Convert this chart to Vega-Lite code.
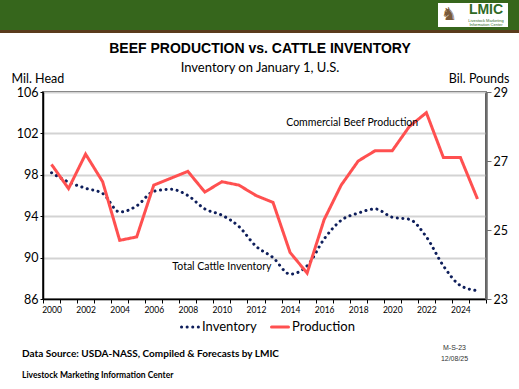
{
  "$schema": "https://vega.github.io/schema/vega-lite/v6.json",
  "padding": 0,
  "spacing": 0,
  "align": "none",
  "background": "white",
  "config": {
    "font": "Lato",
    "view": {"stroke": null},
    "concat": {"spacing": 0}
  },
  "resolve": {"scale": {"color": "independent", "strokeDash": "independent"}, "legend": {"color": "independent", "strokeDash": "independent"}},
  "vconcat": [
    {
      "hconcat": [
        {"width": 438, "height": 30, "view": {"fill": "#36661c", "stroke": null}, "data": {"values": []}, "mark": "text"},
        {
          "align": "none",
          "vconcat": [
            {"width": 70, "height": 3, "view": {"fill": "#36661c", "stroke": null}, "data": {"values": []}, "mark": "text"},
            {
              "width": 70, "height": 24,
              "view": {"fill": "white", "stroke": null},
              "data": {"values": [{"t": "LMIC"}]},
              "layer": [
                {"mark": {"type": "text", "font": "Liberation Sans", "fontWeight": "bold", "fontSize": 14, "color": "#2f6a25", "dx": 13, "dy": -5}, "encoding": {"text": {"field": "t"}}},
                {"mark": {"type": "text", "font": "Liberation Sans", "fontSize": 4, "color": "#2f6a25", "dx": 13, "dy": 5.5}, "encoding": {"text": {"value": "Livestock Marketing"}}},
                {"mark": {"type": "text", "font": "Liberation Sans", "fontSize": 4, "color": "#2f6a25", "dx": 13, "dy": 9.5}, "encoding": {"text": {"value": "Information Center"}}},
                {"mark": {"type": "text", "font": "DejaVu Sans", "fontSize": 18, "color": "#7a5a3a", "dx": -24, "dy": 0}, "encoding": {"text": {"value": "♞"}}}
              ]
            },
            {"width": 70, "height": 3, "view": {"fill": "#36661c", "stroke": null}, "data": {"values": []}, "mark": "text"}
          ]
        },
        {"width": 11, "height": 30, "view": {"fill": "#36661c", "stroke": null}, "data": {"values": []}, "mark": "text"}
      ]
    },
    {"width": 519, "height": 3, "view": {"fill": "#5a3b1c", "stroke": null}, "data": {"values": []}, "mark": "text"},
    {"width": 519, "height": 7, "data": {"values": []}, "mark": "text"},
    {
      "resolve": {"scale": {"color": "independent", "strokeDash": "independent"}, "legend": {"color": "independent", "strokeDash": "independent"}},
      "hconcat": [
        {"width": 10, "height": 1, "data": {"values": []}, "mark": "text"},
        {
          "width": 443,
          "height": 207,
          "view": {"stroke": "black", "strokeWidth": 1.5},
          "title": {
            "text": "BEEF PRODUCTION vs. CATTLE INVENTORY",
            "subtitle": "Inventory on January 1, U.S.",
            "font": "Liberation Sans",
            "fontSize": 14,
            "fontWeight": "bold",
            "color": "black",
            "subtitleFont": "Lato",
            "subtitleFontSize": 13,
            "subtitleColor": "black",
            "subtitlePadding": 6,
            "anchor": "middle",
            "frame": "bounds",
            "offset": -2.5
          },
          "data": {
            "values": [
              {"year": 2000, "series": "Inventory", "value": 98.2},
              {"year": 2001, "series": "Inventory", "value": 97.3},
              {"year": 2002, "series": "Inventory", "value": 96.7},
              {"year": 2003, "series": "Inventory", "value": 96.2},
              {"year": 2004, "series": "Inventory", "value": 94.4},
              {"year": 2005, "series": "Inventory", "value": 95.0},
              {"year": 2006, "series": "Inventory", "value": 96.4},
              {"year": 2007, "series": "Inventory", "value": 96.6},
              {"year": 2008, "series": "Inventory", "value": 96.0},
              {"year": 2009, "series": "Inventory", "value": 94.7},
              {"year": 2010, "series": "Inventory", "value": 94.1},
              {"year": 2011, "series": "Inventory", "value": 93.0},
              {"year": 2012, "series": "Inventory", "value": 91.1},
              {"year": 2013, "series": "Inventory", "value": 90.0},
              {"year": 2014, "series": "Inventory", "value": 88.4},
              {"year": 2015, "series": "Inventory", "value": 89.2},
              {"year": 2016, "series": "Inventory", "value": 91.8},
              {"year": 2017, "series": "Inventory", "value": 93.6},
              {"year": 2018, "series": "Inventory", "value": 94.3},
              {"year": 2019, "series": "Inventory", "value": 94.7},
              {"year": 2020, "series": "Inventory", "value": 93.9},
              {"year": 2021, "series": "Inventory", "value": 93.7},
              {"year": 2022, "series": "Inventory", "value": 92.0},
              {"year": 2023, "series": "Inventory", "value": 89.2},
              {"year": 2024, "series": "Inventory", "value": 87.3},
              {"year": 2025, "series": "Inventory", "value": 86.8},
              {"year": 2000, "series": "Production", "value": 26.9},
              {"year": 2001, "series": "Production", "value": 26.2},
              {"year": 2002, "series": "Production", "value": 27.2},
              {"year": 2003, "series": "Production", "value": 26.4},
              {"year": 2004, "series": "Production", "value": 24.7},
              {"year": 2005, "series": "Production", "value": 24.8},
              {"year": 2006, "series": "Production", "value": 26.3},
              {"year": 2007, "series": "Production", "value": 26.5},
              {"year": 2008, "series": "Production", "value": 26.7},
              {"year": 2009, "series": "Production", "value": 26.1},
              {"year": 2010, "series": "Production", "value": 26.4},
              {"year": 2011, "series": "Production", "value": 26.3},
              {"year": 2012, "series": "Production", "value": 26.0},
              {"year": 2013, "series": "Production", "value": 25.8},
              {"year": 2014, "series": "Production", "value": 24.35},
              {"year": 2015, "series": "Production", "value": 23.75},
              {"year": 2016, "series": "Production", "value": 25.3},
              {"year": 2017, "series": "Production", "value": 26.3},
              {"year": 2018, "series": "Production", "value": 27.0},
              {"year": 2019, "series": "Production", "value": 27.3},
              {"year": 2020, "series": "Production", "value": 27.3},
              {"year": 2021, "series": "Production", "value": 28.0},
              {"year": 2022, "series": "Production", "value": 28.4},
              {"year": 2023, "series": "Production", "value": 27.1},
              {"year": 2024, "series": "Production", "value": 27.1},
              {"year": 2025, "series": "Production", "value": 25.9}
            ]
          },
          "layer": [
            {
              "layer": [
                {
                  "transform": [{"filter": "datum.series == 'Inventory'"}],
                  "mark": {"type": "line", "interpolate": "monotone", "strokeWidth": 3, "strokeCap": "round"},
                  "encoding": {
                    "x": {
                      "field": "year", "type": "ordinal", "bandPosition": 0.5,
                      "scale": {"type": "band", "paddingInner": 0, "paddingOuter": 0},
                      "axis": {
                        "title": null, "labelAngle": 0, "tickBand": "extent",
                        "labelExpr": "datum.value % 2 == 0 ? datum.label : ''",
                        "labelFont": "Lato", "labelFontSize": 8.5, "labelColor": "black",
                        "domainColor": "black", "domainWidth": 1.5, "tickColor": "black", "tickSize": 4, "labelPadding": 2
                      }
                    },
                    "y": {
                      "field": "value", "type": "quantitative",
                      "scale": {"domain": [86, 106], "zero": false, "nice": false},
                      "axis": {
                        "title": "Mil. Head", "titleAngle": 0, "titleX": -32, "titleY": -14, "titleAlign": "left", "titleBaseline": "middle",
                        "titleFont": "Lato", "titleFontSize": 12.5, "titleFontWeight": "normal", "titleColor": "black",
                        "values": [86, 88, 90, 92, 94, 96, 98, 100, 102, 104, 106], "labelOverlap": false,
                        "labelFont": "Lato", "labelFontSize": 12.5, "labelColor": "black", "labelPadding": 2,
                        "domainColor": "black", "domainWidth": 1.5, "tickColor": "black", "tickSize": 3,
                        "grid": true, "gridColor": "#d3d3d3", "gridWidth": 2
                      }
                    },
                    "color": {
                      "field": "series", "type": "nominal",
                      "scale": {"domain": ["Inventory", "Production"], "range": ["#0e1e5b", "#ff5050"]},
                      "legend": {
                        "title": null, "orient": "none", "legendX": 137, "legendY": 225, "direction": "horizontal",
                        "symbolType": "stroke", "symbolStrokeWidth": 3, "symbolSize": 289,
                        "labelFont": "Lato", "labelFontSize": 13, "labelColor": "black",
                        "columnPadding": 8, "labelOffset": 2,
                        "encode": {"symbols": {"update": {"strokeCap": {"value": "round"}}}}
                      }
                    },
                    "strokeDash": {
                      "field": "series", "type": "nominal",
                      "scale": {"domain": ["Inventory", "Production"], "range": [[0.1, 5.5], [1, 0]]}
                    }
                  }
                },
                {
                  "data": {"values": [{"label": "Total Cattle Inventory", "year": 2010, "value": 89.1}]},
                  "mark": {"type": "text", "font": "Lato", "fontSize": 10.5, "color": "black"},
                  "encoding": {
                    "x": {"field": "year", "type": "ordinal", "bandPosition": 0.5},
                    "y": {"field": "value", "type": "quantitative"},
                    "text": {"field": "label"}
                  }
                }
              ]
            },
            {
              "layer": [
                {
                  "transform": [{"filter": "datum.series == 'Production'"}],
                  "mark": {"type": "line", "strokeWidth": 3},
                  "encoding": {
                    "x": {"field": "year", "type": "ordinal", "bandPosition": 0.5},
                    "y": {
                      "field": "value", "type": "quantitative",
                      "scale": {"domain": [23, 29], "zero": false, "nice": false},
                      "axis": {
                        "orient": "right",
                        "title": "Bil. Pounds", "titleAngle": 0, "titleX": 23, "titleY": -14, "titleAlign": "right", "titleBaseline": "middle",
                        "titleFont": "Lato", "titleFontSize": 12.5, "titleFontWeight": "normal", "titleColor": "black",
                        "values": [23, 24, 25, 26, 27, 28, 29], "labelOverlap": false,
                        "labelFont": "Lato", "labelFontSize": 12.5, "labelColor": "black", "labelPadding": 2,
                        "domainColor": "#6e6e6e", "domainWidth": 2.5, "tickColor": "#6e6e6e", "tickSize": 5, "grid": false
                      }
                    },
                    "color": {"field": "series", "type": "nominal"},
                    "strokeDash": {"field": "series", "type": "nominal"}
                  }
                },
                {
                  "data": {"values": [{"label": "Commercial Beef Production", "year": 2018, "value": 28.1}]},
                  "mark": {"type": "text", "font": "Lato", "fontSize": 10.5, "color": "black", "dx": -6},
                  "encoding": {
                    "x": {"field": "year", "type": "ordinal", "bandPosition": 0.5},
                    "y": {"field": "value", "type": "quantitative"},
                    "text": {"field": "label"}
                  }
                }
              ]
            }
          ],
          "resolve": {"scale": {"y": "independent"}}
        }
      ]
    },
    {
      "hconcat": [
        {
          "width": 420, "height": 52,
          "title": {"text": "Data Source:  USDA-NASS, Compiled & Forecasts by LMIC", "subtitle": "Livestock Marketing Information Center",
            "anchor": "start", "frame": "group", "orient": "top", "offset": -44.75, "dx": 22,
            "font": "Lato", "fontSize": 10, "fontWeight": "bold", "color": "black",
            "subtitleFont": "Lato", "subtitleFontSize": 8.5, "subtitleFontWeight": "bold", "subtitleColor": "black", "subtitlePadding": 12.75},
          "data": {"values": []}, "mark": "text"
        },
        {
          "width": 99, "height": 52,
          "title": {"text": "M-S-23", "subtitle": "12/08/25",
            "anchor": "middle", "frame": "group", "orient": "top", "offset": -27, "dx": -15,
            "font": "Liberation Sans", "fontSize": 7, "fontWeight": "normal", "color": "#333333",
            "subtitleFont": "Liberation Sans", "subtitleFontSize": 7, "subtitleColor": "#333333", "subtitlePadding": 4},
          "data": {"values": []}, "mark": "text"
        }
      ]
    }
  ]
}
